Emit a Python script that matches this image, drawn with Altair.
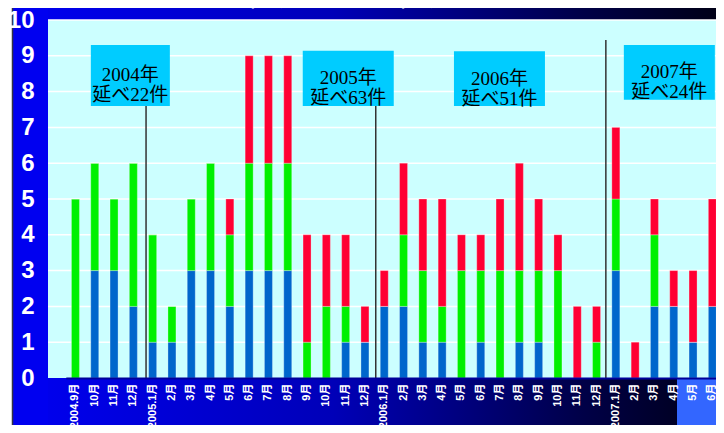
import json
import altair as alt
import pandas as pd

# ---- data ----
months = ["2004.9月", "10月", "11月", "12月",
          "2005.1月", "2月", "3月", "4月", "5月", "6月", "7月", "8月", "9月", "10月", "11月", "12月",
          "2006.1月", "2月", "3月", "4月", "5月", "6月", "7月", "8月", "9月", "10月", "11月", "12月",
          "2007.1月", "2月", "3月", "4月", "5月", "6月"]
blue = [0, 3, 3, 2,
        1, 1, 3, 3, 2, 3, 3, 3, 0, 0, 1, 1,
        2, 2, 1, 1, 0, 1, 0, 1, 1, 0, 0, 0,
        3, 0, 2, 2, 1, 2]
green = [5, 3, 2, 4,
         3, 1, 2, 3, 2, 3, 3, 3, 1, 2, 1, 0,
         0, 2, 2, 1, 3, 2, 3, 2, 2, 3, 0, 1,
         2, 0, 2, 0, 0, 0]
red = [0, 0, 0, 0,
       0, 0, 0, 0, 1, 3, 3, 3, 3, 2, 2, 1,
       1, 2, 2, 3, 1, 1, 2, 3, 2, 1, 2, 1,
       2, 1, 1, 1, 2, 3]
series_names = ["blue", "green", "red"]
series_colors = ["#0066CC", "#00F000", "#FF0033"]

y_ticks = list(range(0, 11))
grid_values = list(range(1, 11))

ann_years = ["2004年", "2005年", "2006年", "2007年"]
ann_counts = ["延べ22件", "延べ63件", "延べ51件", "延べ24件"]
ann_anchor = [3, 14, 22, 31]
ann_bottom = [7.60, 7.60, 7.60, 7.77]
ann_top = [9.30, 9.14, 9.13, 9.30]

sep_index = [4, 16, 28]
sep_top = [7.6, 7.6, 9.44]

title_text = "2004年9月～2007年6月"

# ---- tables ----
rows = []
for i in range(len(months)):
    for k, (name, vals) in enumerate(zip(series_names, [blue, green, red])):
        rows.append({"idx": i, "series": name, "value": vals[i], "ord": k})
bars_df = pd.DataFrame(rows)

W, H = 668, 358
STEP = 19.3
X0 = 17.8
domain_idx = list(range(len(months)))
xscale = alt.Scale(domain=domain_idx, paddingInner=0, paddingOuter=0,
                   range=[X0, X0 + STEP * len(months)])
yscale = alt.Scale(domain=[0, 10], nice=False)
label_expr = json.dumps(months, ensure_ascii=False) + "[datum.value]"

xaxis = alt.Axis(labelExpr=label_expr, labelAngle=-90, labelColor="white",
                 labelFontSize=11, labelFontWeight="bold",
                 labelFont="'Liberation Sans', 'Noto Sans CJK JP', sans-serif",
                 labelPadding=5, ticks=False, domainColor="#000099", domainWidth=2,
                 labelOverlap=False, zindex=1, title=None)
yaxis = alt.Axis(values=y_ticks, grid=False, domain=False, ticks=False,
                 labelColor="white", labelFontSize=24, labelFontWeight="bold",
                 labelFont="'Liberation Sans Narrow', 'Arial Narrow', 'Liberation Sans', sans-serif",
                 labelPadding=14, zindex=1, title=None)

one = pd.DataFrame({"a": [0]})
grad = alt.Gradient(
    gradient="linear",
    stops=[alt.GradientStop(color="#0000F2", offset=0),
           alt.GradientStop(color="#0000B8", offset=0.45),
           alt.GradientStop(color="#000048", offset=0.8),
           alt.GradientStop(color="#000014", offset=1)],
    x1=0, x2=1, y1=0, y2=0)

layers = []
# background strips around the plot area
layers.append(alt.Chart(one).mark_rect(fill=grad).encode(
    x=alt.value(-35), x2=alt.value(W + 8), y=alt.value(-12), y2=alt.value(0)))
layers.append(alt.Chart(one).mark_rect(fill=grad).encode(
    x=alt.value(-35), x2=alt.value(W + 8), y=alt.value(H), y2=alt.value(H + 60)))
layers.append(alt.Chart(one).mark_rect(fill="#0000F0").encode(
    x=alt.value(-35), x2=alt.value(0), y=alt.value(-12), y2=alt.value(H + 60)))
layers.append(alt.Chart(one).mark_rect(fill="#3366FF").encode(
    x=alt.value(629), x2=alt.value(W + 8), y=alt.value(H + 1), y2=alt.value(H + 60)))
layers.append(alt.Chart(one).mark_rule(color="#333344", strokeWidth=1.5).encode(
    x=alt.value(-35.5), y=alt.value(-12), y2=alt.value(H + 60)))
# clipped slide title
layers.append(alt.Chart(one).mark_text(
    text=title_text, fontSize=26, color="white", baseline="bottom", align="center",
    font="'Noto Sans CJK JP', sans-serif").encode(x=alt.value(270), y=alt.value(-9)))

# grid lines
grid_df = pd.DataFrame({"g": grid_values})
layers.append(alt.Chart(grid_df).mark_rule(color="white", strokeWidth=1.5).encode(
    y=alt.Y("g:Q", scale=yscale, axis=yaxis)))

# separators
for k in range(len(sep_index)):
    sdf = pd.DataFrame({"idx": [sep_index[k]], "y0": [0], "y1": [sep_top[k]]})
    off = [-6.6, -8.5, -10][k]
    layers.append(alt.Chart(sdf).mark_rule(color="#333333", strokeWidth=1.5, xOffset=off).encode(
        x=alt.X("idx:O", scale=xscale, axis=xaxis),
        y=alt.Y("y0:Q", scale=yscale, axis=yaxis), y2="y1:Q"))

# stacked bars
bars = alt.Chart(bars_df).mark_bar(size=8, stroke="white", strokeWidth=0.4, strokeOpacity=0.7).encode(
    x=alt.X("idx:O", scale=xscale, axis=xaxis),
    y=alt.Y("value:Q", stack="zero", scale=yscale, axis=yaxis),
    color=alt.Color("series:N", scale=alt.Scale(domain=series_names, range=series_colors), legend=None),
    order=alt.Order("ord:Q"))
layers.append(bars)

# annotation boxes
box_width = [79, 91, 91, 91]
box_off = [-3, 2.6, -0.6, -4.4]
for k in range(len(ann_years)):
    adf = pd.DataFrame({"idx": [ann_anchor[k]], "b": [ann_bottom[k]], "t": [ann_top[k]],
                        "m": [(ann_bottom[k] + ann_top[k]) / 2],
                        "lbl": [ann_years[k] + "\n" + ann_counts[k]]})
    layers.append(alt.Chart(adf).mark_bar(size=box_width[k], xOffset=box_off[k], color="#00CCFF").encode(
        x=alt.X("idx:O", scale=xscale, axis=xaxis),
        y=alt.Y("b:Q", scale=yscale, axis=yaxis), y2="t:Q"))
    layers.append(alt.Chart(adf).mark_text(
        xOffset=box_off[k], fontSize=19, lineHeight=20, lineBreak="\n", color="black",
        font="'Liberation Serif', 'Noto Sans CJK JP', serif", baseline="middle", align="center").encode(
        x=alt.X("idx:O", scale=xscale, axis=xaxis),
        y=alt.Y("m:Q", scale=yscale, axis=yaxis), text="lbl:N"))

chart = alt.layer(*layers).properties(
    width=W, height=H,
    background="white",
    autosize=alt.AutoSizeParams(type="none"),
    padding={"left": 40, "top": 12, "right": 0, "bottom": 47},
).configure_view(fill="#CCFFFF", strokeWidth=0)

chart.save("out.html", embed_options={"renderer": "svg", "actions": False})
